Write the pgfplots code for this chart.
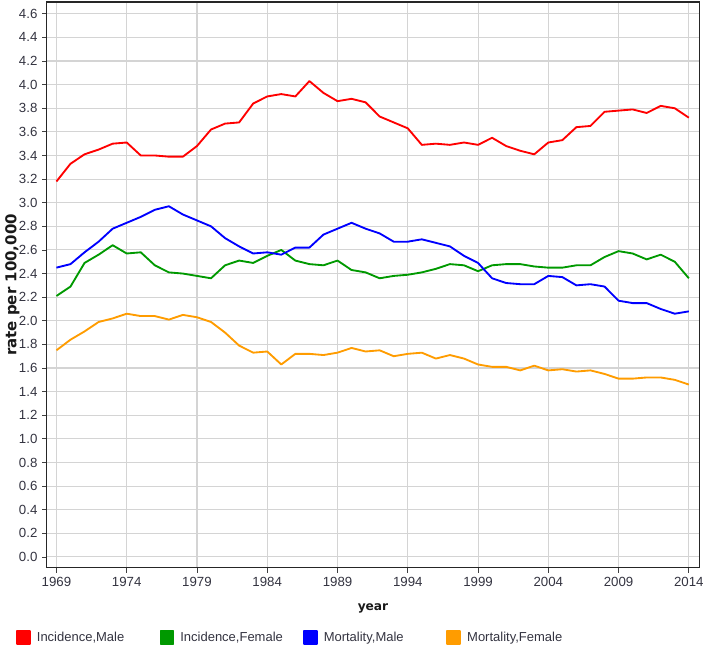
\documentclass[border=0pt]{standalone}
\usepackage{fontspec}
\setmainfont{Liberation Sans}
\newfontfamily\labelfont{DejaVu Sans}
\usepackage{pgfplots}
\usepackage{pgfplotstable}
\pgfplotsset{compat=1.18}

\definecolor{im}{HTML}{FF0000}
\definecolor{if}{HTML}{009900}
\definecolor{mm}{HTML}{0000FF}
\definecolor{mf}{HTML}{FF9C00}
\definecolor{ticktext}{HTML}{333340}
\definecolor{gridc}{HTML}{D4D4D4}

% year, incidence male, incidence female, mortality male, mortality female
\pgfplotstableread{
year im   if   mm   mf
1969 3.18 2.21 2.45 1.75
1970 3.33 2.29 2.48 1.84
1971 3.41 2.49 2.58 1.91
1972 3.45 2.56 2.67 1.99
1973 3.50 2.64 2.78 2.02
1974 3.51 2.57 2.83 2.06
1975 3.40 2.58 2.88 2.04
1976 3.40 2.47 2.94 2.04
1977 3.39 2.41 2.97 2.01
1978 3.39 2.40 2.90 2.05
1979 3.48 2.38 2.85 2.03
1980 3.62 2.36 2.80 1.99
1981 3.67 2.47 2.70 1.90
1982 3.68 2.51 2.63 1.79
1983 3.84 2.49 2.57 1.73
1984 3.90 2.55 2.58 1.74
1985 3.92 2.60 2.56 1.63
1986 3.90 2.51 2.62 1.72
1987 4.03 2.48 2.62 1.72
1988 3.93 2.47 2.73 1.71
1989 3.86 2.51 2.78 1.73
1990 3.88 2.43 2.83 1.77
1991 3.85 2.41 2.78 1.74
1992 3.73 2.36 2.74 1.75
1993 3.68 2.38 2.67 1.70
1994 3.63 2.39 2.67 1.72
1995 3.49 2.41 2.69 1.73
1996 3.50 2.44 2.66 1.68
1997 3.49 2.48 2.63 1.71
1998 3.51 2.47 2.55 1.68
1999 3.49 2.42 2.49 1.63
2000 3.55 2.47 2.36 1.61
2001 3.48 2.48 2.32 1.61
2002 3.44 2.48 2.31 1.58
2003 3.41 2.46 2.31 1.62
2004 3.51 2.45 2.38 1.58
2005 3.53 2.45 2.37 1.59
2006 3.64 2.47 2.30 1.57
2007 3.65 2.47 2.31 1.58
2008 3.77 2.54 2.29 1.55
2009 3.78 2.59 2.17 1.51
2010 3.79 2.57 2.15 1.51
2011 3.76 2.52 2.15 1.52
2012 3.82 2.56 2.10 1.52
2013 3.80 2.50 2.06 1.50
2014 3.72 2.36 2.08 1.46
}\rates

\begin{document}
\begin{tikzpicture}
\begin{axis}[
    name=ax,
    scale only axis,
    width=492pt, height=426.75pt,
    xmin=1968.31, xmax=2014.74,
    ymin=-0.093, ymax=4.70,
    xtick={1969,1974,...,2014},
    ytick={0,0.2,...,4.61},
    /pgf/number format/assume math mode=true,
    x tick label style={/pgf/number format/1000 sep={}},
    y tick label style={/pgf/number format/.cd, fixed, fixed zerofill, precision=1},
    tick label style={font=\fontsize{10}{12}\selectfont, text=ticktext},
    tick align=outside,
    major tick length=3.5pt,
    tick style={black!75, line width=0.6pt},
    xtick pos=bottom, ytick pos=left,
    grid=major,
    major grid style={gridc, line width=0.8pt},
    axis line style={black!85, line width=0.8pt},
    xlabel={year},
    ylabel={rate per 100,000},
    label style={text=black!90},
    xlabel style={font=\labelfont\bfseries\fontsize{9.2}{11}\selectfont,
        at={(axis description cs:0.5,-0.072)}, anchor=center},
    ylabel style={font=\labelfont\bfseries\fontsize{11.3}{13}\selectfont,
        at={(axis description cs:-0.0525,0.5)}, anchor=center},
    every axis plot/.append style={line width=1.4pt, mark=none, line join=round},
    legend columns=4,
    legend style={at={(axis description cs:-0.0473,-0.123)}, anchor=west,
        draw=none, fill=none, inner sep=0pt, column sep=0pt,
        nodes={inner sep=0pt, font=\fontsize{9.8}{12}\selectfont, text=ticktext}},
    legend image code/.code={\fill[#1] (0pt,-4.9pt) rectangle (9.75pt,4.9pt);},
    clip=false,
]
\addplot[im] table[x=year, y=im] {\rates};
\addlegendentry{\makebox[97pt][l]{\hspace{4.5pt}Incidence,Male}}
\addplot[if] table[x=year, y=if] {\rates};
\addlegendentry{\makebox[97pt][l]{\hspace{4.5pt}Incidence,Female}}
\addplot[mm] table[x=year, y=mm] {\rates};
\addlegendentry{\makebox[97pt][l]{\hspace{4.5pt}Mortality,Male}}
\addplot[mf] table[x=year, y=mf] {\rates};
\addlegendentry{\makebox[97pt][l]{\hspace{4.5pt}Mortality,Female}}
\end{axis}
\path ([xshift=-35.25pt, yshift=-61.5pt]ax.south west) rectangle ([xshift=3.75pt, yshift=1.5pt]ax.north east);
\end{tikzpicture}
\end{document}
